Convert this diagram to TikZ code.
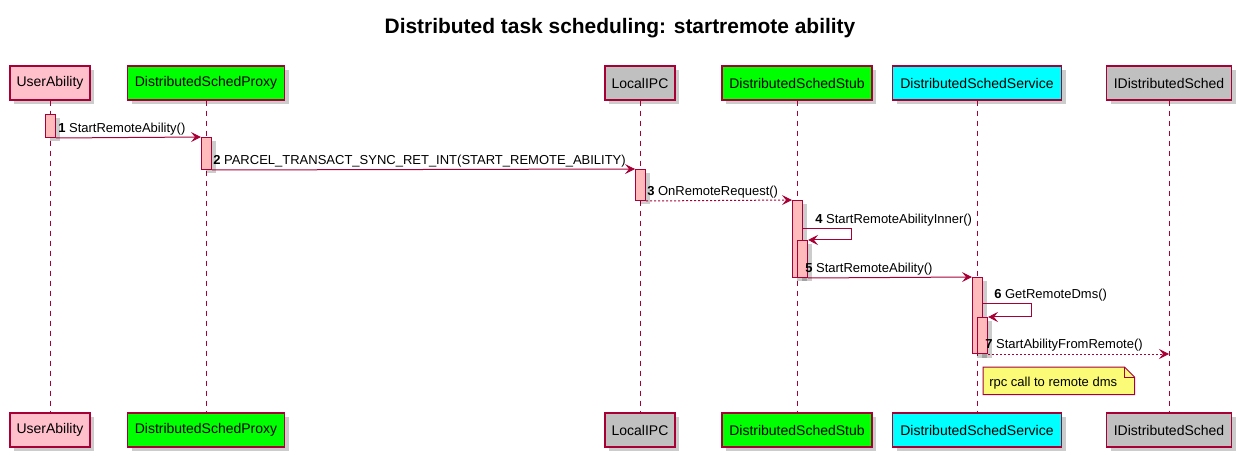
\documentclass[tikz,border=0pt]{standalone}
\usepackage{fontspec}
\setmainfont{Liberation Sans}
\usetikzlibrary{arrows.meta,shadows}
\definecolor{bord}{HTML}{A80036}
\definecolor{actfill}{HTML}{FFBBBB}
\definecolor{notefill}{HTML}{FBFB77}
\definecolor{ppink}{HTML}{FFC0CB}
\definecolor{plime}{HTML}{00FF00}
\definecolor{psilver}{HTML}{C0C0C0}
\definecolor{pcyan}{HTML}{00FFFF}
\tikzset{
 shad/.style={drop shadow={shadow xshift=3pt,shadow yshift=-3pt,fill=black,opacity=0.2}},
 part/.style={draw=bord,line width=1.1pt,minimum height=25.5pt,inner sep=0pt,font=\fontsize{10.5}{12}\selectfont,shad},
 bar/.style={draw=bord,line width=0.75pt,fill=actfill,minimum width=7.5pt,inner sep=0pt,anchor=north west,shad},
 life/.style={draw=bord,line width=0.75pt,dash pattern=on 3.75pt off 3.75pt},
 msg/.style={draw=bord,line width=0.75pt,-{Stealth[length=7.5pt,width=7.5pt,inset=3pt]}},
 ret/.style={msg,dash pattern=on 1.5pt off 1.5pt},
 lbl/.style={anchor=base west,inner sep=0pt,font=\fontsize{9.75}{11}\selectfont},
}
\begin{document}
\begin{tikzpicture}[x=0.75pt,y=-0.75pt]
\useasboundingbox (0,0) rectangle (1240,456);
\node (title) at (620,28) {\fontsize{15.7}{18}\selectfont\bfseries Distributed task scheduling: startremote ability};
% participants top
\node[part,fill=ppink,minimum width=80*0.75pt] (ua) at (50,83) {UserAbility};
\node[part,fill=plime,minimum width=157*0.75pt] (px) at (206,83) {DistributedSchedProxy};
\node[part,fill=psilver,minimum width=70*0.75pt] (ipc) at (640,83) {LocalIPC};
\node[part,fill=plime,minimum width=150*0.75pt] (stub) at (797,83) {DistributedSchedStub};
\node[part,fill=pcyan,minimum width=169*0.75pt] (svc) at (977,83) {DistributedSchedService};
\node[part,fill=psilver,minimum width=125*0.75pt] (ids) at (1169,83) {IDistributedSched};
% participants bottom
\node[part,fill=ppink,minimum width=80*0.75pt] (uab) at (50,430) {UserAbility};
\node[part,fill=plime,minimum width=157*0.75pt] (pxb) at (206,430) {DistributedSchedProxy};
\node[part,fill=psilver,minimum width=70*0.75pt] (ipcb) at (640,430) {LocalIPC};
\node[part,fill=plime,minimum width=150*0.75pt] (stubb) at (797,430) {DistributedSchedStub};
\node[part,fill=pcyan,minimum width=169*0.75pt] (svcb) at (977,430) {DistributedSchedService};
\node[part,fill=psilver,minimum width=125*0.75pt] (idsb) at (1169,430) {IDistributedSched};
% lifelines
\draw[life] (ua.south) -- (uab.north);
\draw[life] (px.south) -- (pxb.north);
\draw[life] (ipc.south) -- (ipcb.north);
\draw[life] (stub.south) -- (stubb.north);
\draw[life] (svc.south) -- (svcb.north);
\draw[life] (ids.south) -- (idsb.north);
% activation bars
\node[bar,minimum height=23*0.75pt] (b1) at (45,114) {};
\node[bar,minimum height=32*0.75pt] (b2) at (201,137) {};
\node[bar,minimum height=31*0.75pt] (b3) at (635,169) {};
\node[bar,minimum height=77*0.75pt] (b4) at (792,200) {};
\node[bar,minimum height=37*0.75pt] (b4n) at (797,240) {};
\node[bar,minimum height=76*0.75pt] (b5) at (972,277) {};
\node[bar,minimum height=36*0.75pt] (b5n) at (977,317) {};
% messages
\draw[msg] (b1.south east) -- (b2.north west);
\node[lbl] (l1) at (58,133) {\textbf{1} StartRemoteAbility()};
\draw[msg] (b2.south east) -- (b3.north west);
\node[lbl] (l2) at (213,165) {\textbf{2} PARCEL\_TRANSACT\_SYNC\_RET\_INT(START\_REMOTE\_ABILITY)};
\draw[ret] (b3.south east) -- (b4.north west);
\node[lbl] (l3) at (647,196) {\textbf{3} OnRemoteRequest()};
\draw[msg] ([yshift=-21.75pt]b4.north east) -- ++(48,0) |- (b4n.north east);
\node[lbl] (l4) at (815,224) {\textbf{4} StartRemoteAbilityInner()};
\draw[msg] (b4n.south east) -- (b5.north west);
\node[lbl] (l5) at (805,273) {\textbf{5} StartRemoteAbility()};
\draw[msg] ([yshift=-20.25pt]b5.north east) -- ++(48,0) |- (b5n.north east);
\node[lbl] (l6) at (994,299) {\textbf{6} GetRemoteDms()};
\draw[ret] (b5n.south east) -- (b5n.south east -| ids.south);
\node[lbl] (l7) at (985,349) {\textbf{7} StartAbilityFromRemote()};
% note
\node[anchor=north west,minimum width=151*0.75pt,minimum height=27*0.75pt,inner sep=0pt] (note) at (983,367) {};
\fill[black,opacity=0.2,shift={(3pt,-3pt)}] (note.north west) -- ([xshift=-7.5pt]note.north east) -- ([yshift=-7.5pt]note.north east) -- (note.south east) -- (note.south west) -- cycle;
\draw[draw=bord,fill=notefill,line width=0.75pt] (note.north west) -- ([xshift=-7.5pt]note.north east) -- ([yshift=-7.5pt]note.north east) -- (note.south east) -- (note.south west) -- cycle;
\draw[draw=bord,line width=0.75pt] ([xshift=-7.5pt]note.north east) -- ([xshift=-7.5pt,yshift=-7.5pt]note.north east) -- ([yshift=-7.5pt]note.north east);
\node[lbl] (notetext) at (989,386) {rpc call to remote dms};
\end{tikzpicture}
\end{document}
